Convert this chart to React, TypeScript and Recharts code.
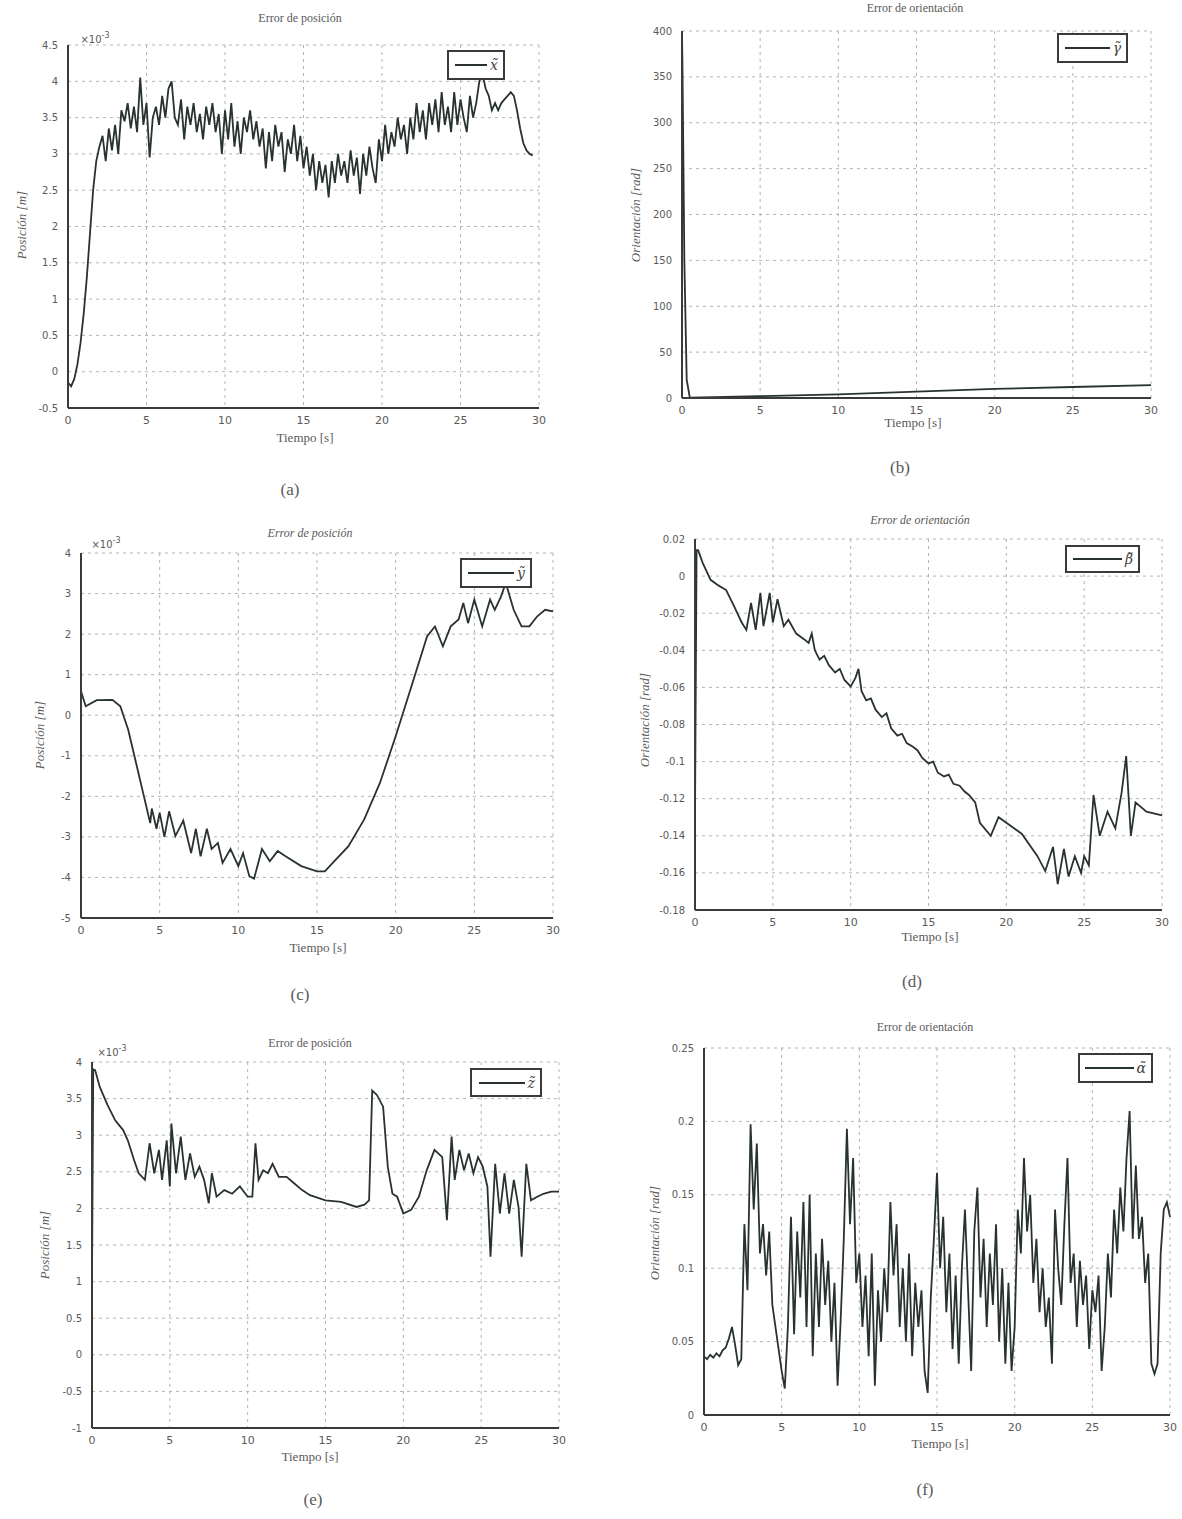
import React from "react"
import { CartesianGrid, Line, LineChart, XAxis, YAxis } from "recharts"

const LINE = "#28332f"
const AXIS = "#3a3a3a"
const GRID = "#b4b4b4"
const TEXT = "#5a5a5a"

const X_TICKS = [0, 5, 10, 15, 20, 25, 30]

// (a) error en x, x10^-3 m, muestreado cada 0.2 s
const A_DT = 0.2
const A_VALUES = [
  -0.15, -0.2, -0.1, 0.1, 0.4, 0.8, 1.3, 1.9, 2.5, 2.9, 3.1, 3.25, 2.9, 3.35, 3.05, 3.4, 3.0, 3.6, 3.45, 3.7,
  3.35, 3.65, 3.3, 4.05, 3.4, 3.7, 2.95, 3.5, 3.65, 3.4, 3.8, 3.5, 3.9, 4.0, 3.5, 3.4, 3.75, 3.2, 3.65, 3.4,
  3.7, 3.3, 3.55, 3.2, 3.65, 3.4, 3.7, 3.3, 3.55, 3.0, 3.6, 3.2, 3.7, 3.1, 3.45, 3.0, 3.5, 3.3, 3.6, 3.2,
  3.45, 3.1, 3.35, 2.8, 3.3, 2.9, 3.4, 3.1, 3.3, 2.75, 3.2, 3.0, 3.4, 2.9, 3.25, 2.8, 3.1, 2.7, 3.0, 2.5,
  2.9, 2.6, 2.85, 2.4, 2.9, 2.6, 3.0, 2.7, 2.9, 2.6, 3.05, 2.7, 2.95, 2.45, 3.0, 2.7, 3.1, 2.8, 2.6, 3.2,
  2.9, 3.4, 3.0, 3.3, 3.1, 3.5, 3.2, 3.4, 3.0, 3.5, 3.2, 3.7, 3.3, 3.6, 3.2, 3.7, 3.4, 3.75, 3.3, 3.85,
  3.4, 3.65, 3.3, 3.85, 3.4, 3.75, 3.5, 3.3, 3.8, 3.5, 3.7, 4.0, 4.1, 3.9, 3.8, 3.6, 3.7, 3.6, 3.7, 3.75,
  3.8, 3.85, 3.8, 3.6, 3.35, 3.15, 3.05, 3.0, 2.98,
]
const A_TICKS = [-0.5, 0, 0.5, 1, 1.5, 2, 2.5, 3, 3.5, 4, 4.5]

// (b) error en gamma
const B_TIME = [0, 0.03, 0.15, 0.3, 0.5, 2, 5, 10, 15, 20, 25, 30]
const B_VALUES = [395, 362, 150, 20, 0.5, 1, 2, 4, 7, 10, 12, 14]
const B_TICKS = [0, 50, 100, 150, 200, 250, 300, 350, 400]

// (c) error en y, x10^-3 m
const C_TIME = [
  0, 0.3, 1, 2, 2.5, 3, 3.5, 4, 4.2, 4.4, 4.5, 4.8, 5, 5.3, 5.6, 6, 6.5, 7, 7.3, 7.6, 8, 8.3, 8.7, 9, 9.5,
  10, 10.3, 10.7, 11, 11.5, 12, 12.5, 13, 14, 15, 15.5, 16, 17, 18, 19, 20, 21, 22, 22.5, 23, 23.5, 24,
  24.3, 24.6, 25, 25.5, 26, 26.3, 26.7, 27, 27.5, 28, 28.5, 29, 29.5, 30,
]
const C_VALUES = [
  0.59, 0.22, 0.37, 0.38, 0.22, -0.36, -1.18, -2.0, -2.33, -2.66, -2.3, -2.8, -2.4, -3.0, -2.37, -2.98,
  -2.6, -3.4, -2.8, -3.48, -2.8, -3.3, -3.15, -3.64, -3.3, -3.72, -3.4, -3.97, -4.03, -3.3, -3.6, -3.35,
  -3.48, -3.72, -3.85, -3.85, -3.64, -3.23, -2.57, -1.67, -0.52, 0.71, 1.95, 2.19, 1.7, 2.19, 2.36, 2.77,
  2.27, 2.85, 2.19, 2.85, 2.6, 2.93, 3.26, 2.6, 2.19, 2.19, 2.44, 2.6, 2.56,
]
const C_TICKS = [-5, -4, -3, -2, -1, 0, 1, 2, 3, 4]

// (d) error en beta
const D_TIME = [
  0, 0.1, 0.2, 0.5, 1, 1.5, 2, 2.5, 3, 3.3, 3.6, 3.9, 4.2, 4.4, 4.8, 5, 5.3, 5.7, 6, 6.5, 7, 7.3, 7.5,
  7.7, 8, 8.3, 8.6, 9, 9.3, 9.6, 10, 10.3, 10.5, 10.7, 11, 11.3, 11.6, 12, 12.3, 12.6, 13, 13.3, 13.6, 14,
  14.3, 14.6, 15, 15.3, 15.6, 16, 16.3, 16.6, 17, 17.3, 17.6, 18, 18.3, 19, 19.5, 20, 21, 22, 22.5, 23,
  23.3, 23.7, 24, 24.4, 24.8, 25, 25.3, 25.6, 26, 26.5, 27, 27.4, 27.7, 28, 28.3, 29, 30,
]
const D_VALUES = [
  -0.13, 0.014, 0.014, 0.007, -0.002, -0.005, -0.0075, -0.016, -0.025, -0.029, -0.0145, -0.029, -0.009,
  -0.027, -0.009, -0.025, -0.0125, -0.027, -0.0235, -0.031, -0.034, -0.036, -0.031, -0.04, -0.045,
  -0.043, -0.048, -0.052, -0.05, -0.056, -0.0595, -0.055, -0.05, -0.062, -0.067, -0.066, -0.072, -0.076,
  -0.074, -0.082, -0.086, -0.085, -0.09, -0.092, -0.094, -0.098, -0.101, -0.1, -0.106, -0.108, -0.107,
  -0.112, -0.113, -0.116, -0.118, -0.122, -0.133, -0.14, -0.13, -0.133, -0.139, -0.151, -0.159, -0.146,
  -0.166, -0.147, -0.162, -0.151, -0.16, -0.151, -0.156, -0.118, -0.14, -0.127, -0.136, -0.117, -0.097,
  -0.14, -0.122, -0.127, -0.129,
]
const D_TICKS = [-0.18, -0.16, -0.14, -0.12, -0.1, -0.08, -0.06, -0.04, -0.02, 0, 0.02]

// (e) error en z, x10^-3 m
const E_TIME = [
  0, 0.08, 0.2, 0.5, 1, 1.5, 2, 2.3, 2.7, 3, 3.4, 3.7, 4, 4.3, 4.5, 4.8, 5, 5.1, 5.4, 5.7, 6, 6.3, 6.6,
  6.9, 7.2, 7.5, 7.7, 8, 8.5, 9, 9.5, 10, 10.3, 10.5, 10.7, 11, 11.3, 11.6, 12, 12.5, 13, 13.5, 14, 15,
  16, 17, 17.5, 17.8, 18, 18.3, 18.7, 19, 19.3, 19.6, 20, 20.5, 21, 21.5, 22, 22.5, 22.8, 23.1, 23.3,
  23.6, 23.9, 24.2, 24.5, 24.8, 25.1, 25.4, 25.6, 25.9, 26.2, 26.5, 26.8, 27.1, 27.4, 27.6, 27.9, 28.2,
  28.6, 29, 29.5, 30,
]
const E_VALUES = [
  1.0, 3.9, 3.89, 3.66, 3.41, 3.2, 3.07, 2.93, 2.66, 2.48, 2.39, 2.89, 2.48, 2.8, 2.39, 2.93, 2.3, 3.16,
  2.48, 2.98, 2.39, 2.75, 2.43, 2.57, 2.39, 2.07, 2.48, 2.16, 2.25, 2.2, 2.3, 2.16, 2.16, 2.89, 2.39,
  2.52, 2.48, 2.61, 2.43, 2.43, 2.34, 2.25, 2.18, 2.11, 2.09, 2.02, 2.05, 2.11, 3.61, 3.55, 3.39, 2.57,
  2.2, 2.16, 1.93, 1.98, 2.16, 2.52, 2.8, 2.7, 1.84, 2.98, 2.39, 2.8, 2.52, 2.75, 2.48, 2.7, 2.57, 2.3,
  1.34, 2.61, 1.93, 2.48, 1.93, 2.39, 2.02, 1.34, 2.61, 2.11, 2.16, 2.2, 2.23, 2.23,
]
const E_TICKS = [-1, -0.5, 0, 0.5, 1, 1.5, 2, 2.5, 3, 3.5, 4]

// (f) error en alfa, muestreado cada 0.2 s
const F_DT = 0.2
const F_VALUES = [
  0.04, 0.038, 0.041, 0.039, 0.042, 0.04, 0.044, 0.046, 0.052, 0.06, 0.048, 0.034, 0.038, 0.13, 0.085,
  0.198, 0.14, 0.185, 0.11, 0.13, 0.095, 0.125, 0.075, 0.06, 0.045, 0.03, 0.018, 0.06, 0.135, 0.055,
  0.125, 0.08, 0.145, 0.06, 0.15, 0.04, 0.11, 0.06, 0.12, 0.075, 0.105, 0.05, 0.09, 0.02, 0.065, 0.12,
  0.195, 0.13, 0.175, 0.09, 0.11, 0.06, 0.095, 0.04, 0.11, 0.02, 0.085, 0.05, 0.1, 0.07, 0.145, 0.095,
  0.13, 0.06, 0.1, 0.05, 0.11, 0.04, 0.09, 0.06, 0.085, 0.03, 0.015, 0.08, 0.12, 0.165, 0.1, 0.135, 0.07,
  0.11, 0.045, 0.095, 0.035, 0.1, 0.14, 0.085, 0.03, 0.125, 0.155, 0.08, 0.12, 0.06, 0.11, 0.075, 0.13,
  0.05, 0.1, 0.035, 0.09, 0.03, 0.06, 0.14, 0.11, 0.175, 0.125, 0.15, 0.09, 0.12, 0.07, 0.1, 0.06, 0.08,
  0.035, 0.14, 0.1, 0.075, 0.13, 0.175, 0.09, 0.11, 0.06, 0.105, 0.075, 0.095, 0.045, 0.085, 0.07, 0.095,
  0.03, 0.06, 0.11, 0.08, 0.14, 0.11, 0.155, 0.125, 0.175, 0.207, 0.12, 0.17, 0.12, 0.135, 0.09, 0.11,
  0.035, 0.028, 0.035, 0.11, 0.14, 0.145, 0.135,
]
const F_TICKS = [0, 0.05, 0.1, 0.15, 0.2, 0.25]

type Pt = { t: number; v: number }

const sampled = (dt: number, values: number[]): Pt[] =>
  values.map((v, i) => ({ t: Math.round(i * dt * 100) / 100, v }))
const paired = (time: number[], values: number[]): Pt[] => time.map((t, i) => ({ t, v: values[i] }))

type Box = { l: number; t: number; r: number; b: number }
type XY = [number, number]

type PanelProps = {
  box: Box
  data: Pt[]
  ticks: number[]
  title: string
  italic?: boolean
  yLabel: string
  legend: string
  legendBox: { l: number; t: number; w: number; h: number }
  caption: string
  titleAt: XY
  xLabelAt: XY
  yLabelAt: XY
  captionAt: XY
  expAt?: XY
}

const ML = 46
const MT = 10
const MR = 12
const XH = 22

function Centered({ at, children, style }: { at: XY; children: React.ReactNode; style?: React.CSSProperties }) {
  return (
    <div
      style={{
        position: "absolute",
        left: at[0],
        top: at[1],
        transform: "translate(-50%, -50%)",
        whiteSpace: "nowrap",
        color: TEXT,
        ...style,
      }}
    >
      {children}
    </div>
  )
}

function Panel(p: PanelProps) {
  const w = p.box.r - p.box.l
  const h = p.box.b - p.box.t
  const ticks = p.ticks
  return (
    <>
      <div style={{ position: "absolute", left: p.box.l - ML, top: p.box.t - MT }}>
        <LineChart
          width={w + ML + MR}
          height={h + MT + XH}
          data={p.data}
          margin={{ top: MT, right: MR, left: 0, bottom: 0 }}
        >
          <CartesianGrid stroke={GRID} strokeDasharray="3 4" />
          <XAxis
            dataKey="t"
            type="number"
            domain={[0, 30]}
            ticks={X_TICKS}
            interval={0}
            height={XH}
            tickLine={false}
            axisLine={{ stroke: AXIS, strokeWidth: 2 }}
            tick={{ fill: TEXT, fontSize: 11, fontFamily: "DejaVu Sans" }}
            tickMargin={2}
          />
          <YAxis
            type="number"
            domain={[ticks[0], ticks[ticks.length - 1]]}
            ticks={ticks}
            interval={0}
            width={ML}
            tickLine={false}
            axisLine={{ stroke: AXIS, strokeWidth: 2 }}
            tick={{ fill: TEXT, fontSize: 10, fontFamily: "DejaVu Sans" }}
            tickFormatter={(v) => String(v)}
            tickMargin={4}
          />
          <Line
            dataKey="v"
            type="linear"
            stroke={LINE}
            strokeWidth={1.8}
            dot={false}
            isAnimationActive={false}
          />
        </LineChart>
      </div>
      <Centered at={p.titleAt} style={{ fontFamily: "Liberation Serif", fontSize: 12, fontStyle: p.italic ? "italic" : "normal" }}>
        {p.title}
      </Centered>
      <Centered at={p.xLabelAt} style={{ fontFamily: "Liberation Serif", fontSize: 13 }}>
        Tiempo [s]
      </Centered>
      <Centered
        at={p.yLabelAt}
        style={{ fontFamily: "Liberation Serif", fontSize: 13, fontStyle: "italic", transform: "translate(-50%, -50%) rotate(-90deg)" }}
      >
        {p.yLabel}
      </Centered>
      <Centered at={p.captionAt} style={{ fontFamily: "Liberation Serif", fontSize: 17 }}>
        {p.caption}
      </Centered>
      {p.expAt && (
        <Centered at={p.expAt} style={{ fontFamily: "DejaVu Sans", fontSize: 10 }}>
          ×10<sup style={{ fontSize: 8 }}>-3</sup>
        </Centered>
      )}
      <div
        style={{
          position: "absolute",
          left: p.legendBox.l,
          top: p.legendBox.t,
          width: p.legendBox.w,
          height: p.legendBox.h,
          boxSizing: "border-box",
          border: `2px solid ${AXIS}`,
          background: "#fff",
          display: "flex",
          alignItems: "center",
          justifyContent: "flex-end",
          paddingRight: 5,
          gap: 3,
        }}
      >
        <div style={{ width: p.legendBox.w - 26, height: 2, background: LINE }} />
        <span style={{ fontFamily: "DejaVu Serif", fontStyle: "italic", fontSize: 14, color: "#444" }}>{p.legend}</span>
      </div>
    </>
  )
}

export default function App() {
  return (
    <div style={{ position: "absolute", left: 0, top: 0, width: 1182, height: 1519, background: "#fff", overflow: "hidden" }}>
      <Panel
        box={{ l: 68, t: 45, r: 539, b: 408 }}
        data={sampled(A_DT, A_VALUES)}
        ticks={A_TICKS}
        title="Error de posición"
        yLabel="Posición [m]"
        legend={"x\u0303"}
        legendBox={{ l: 447, t: 50, w: 58, h: 30 }}
        caption="(a)"
        titleAt={[300, 18]}
        xLabelAt={[305, 438]}
        yLabelAt={[22, 225]}
        captionAt={[290, 490]}
        expAt={[95, 38]}
      />
      <Panel
        box={{ l: 682, t: 31, r: 1151, b: 398 }}
        data={paired(B_TIME, B_VALUES)}
        ticks={B_TICKS}
        title="Error de orientación"
        yLabel="Orientación [rad]"
        legend={"\u03b3\u0303"}
        legendBox={{ l: 1057, t: 33, w: 71, h: 30 }}
        caption="(b)"
        titleAt={[915, 8]}
        xLabelAt={[913, 423]}
        yLabelAt={[636, 215]}
        captionAt={[900, 468]}
      />
      <Panel
        box={{ l: 81, t: 553, r: 553, b: 918 }}
        data={paired(C_TIME, C_VALUES)}
        ticks={C_TICKS}
        title="Error de posición"
        italic
        yLabel="Posición [m]"
        legend={"y\u0303"}
        legendBox={{ l: 460, t: 558, w: 72, h: 30 }}
        caption="(c)"
        titleAt={[310, 533]}
        xLabelAt={[318, 948]}
        yLabelAt={[40, 735]}
        captionAt={[300, 995]}
        expAt={[106, 543]}
      />
      <Panel
        box={{ l: 695, t: 539, r: 1162, b: 910 }}
        data={paired(D_TIME, D_VALUES)}
        ticks={D_TICKS}
        title="Error de orientación"
        italic
        yLabel="Orientación [rad]"
        legend={"\u03b2\u0303"}
        legendBox={{ l: 1065, t: 545, w: 75, h: 28 }}
        caption="(d)"
        titleAt={[920, 520]}
        xLabelAt={[930, 937]}
        yLabelAt={[645, 720]}
        captionAt={[912, 982]}
      />
      <Panel
        box={{ l: 92, t: 1062, r: 559, b: 1428 }}
        data={paired(E_TIME, E_VALUES)}
        ticks={E_TICKS}
        title="Error de posición"
        yLabel="Posición [m]"
        legend={"z\u0303"}
        legendBox={{ l: 470, t: 1068, w: 72, h: 29 }}
        caption="(e)"
        titleAt={[310, 1043]}
        xLabelAt={[310, 1457]}
        yLabelAt={[45, 1245]}
        captionAt={[313, 1500]}
        expAt={[112, 1051]}
      />
      <Panel
        box={{ l: 704, t: 1048, r: 1170, b: 1415 }}
        data={sampled(F_DT, F_VALUES)}
        ticks={F_TICKS}
        title="Error de orientación"
        yLabel="Orientación [rad]"
        legend={"\u03b1\u0303"}
        legendBox={{ l: 1078, t: 1053, w: 75, h: 30 }}
        caption="(f)"
        titleAt={[925, 1027]}
        xLabelAt={[940, 1444]}
        yLabelAt={[655, 1233]}
        captionAt={[925, 1490]}
      />
    </div>
  )
}
